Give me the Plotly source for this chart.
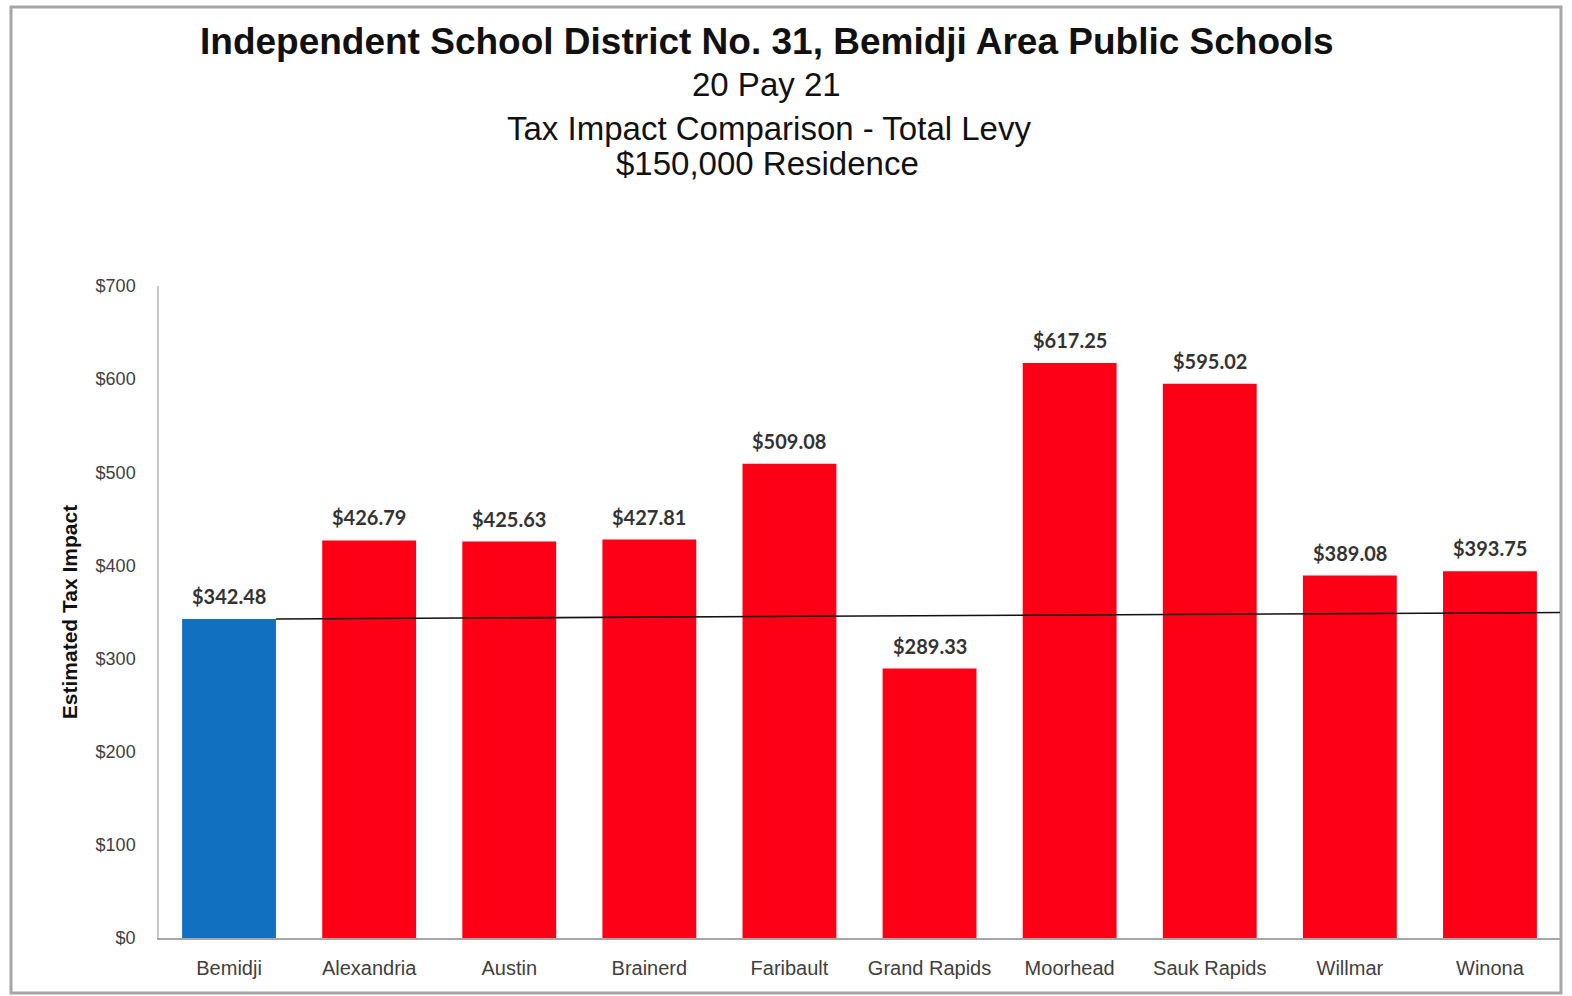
import plotly.graph_objects as go

districts = ["Bemidji", "Alexandria", "Austin", "Brainerd", "Faribault",
             "Grand Rapids", "Moorhead", "Sauk Rapids", "Willmar", "Winona"]
tax_impact = [342.48, 426.79, 425.63, 427.81, 509.08, 289.33, 617.25, 595.02, 389.08, 393.75]
y_ticks = [0, 100, 200, 300, 400, 500, 600, 700]
y_tick_labels = ["$0", "$100", "$200", "$300", "$400", "$500", "$600", "$700"]
reference_district = "Bemidji"
reference_line_end = 349.5  # hand-drawn reference line ends slightly higher

colors = ["#1170C0" if d == reference_district else "#FE0016" for d in districts]
ref_value = tax_impact[districts.index(reference_district)]

fig = go.Figure()
fig.add_trace(go.Bar(
    x=districts, y=tax_impact, marker_color=colors,
    marker_line_width=0, showlegend=False, hoverinfo="x+y",
))

for d, v in zip(districts, tax_impact):
    fig.add_annotation(
        x=d, y=v, text=f"${v:,.2f}", showarrow=False, yanchor="bottom",
        yshift=9, font=dict(family="Lato", size=20, color="#333333", weight="bold"),
    )

# reference line at Bemidji's value
fig.add_shape(type="line", xref="x", yref="y",
              x0=districts.index(reference_district) + 0.335, x1=9.59,
              y0=ref_value, y1=reference_line_end,
              line=dict(color="#111111", width=1.6), layer="above")

# frame around whole chart
fig.add_shape(type="rect", xref="paper", yref="paper",
              x0=(11 - 159) / 1401, x1=(1561 - 159) / 1401,
              y0=(938 - 993) / 652, y1=(938 - 7) / 652,
              line=dict(color="#A6A6A6", width=3), fillcolor="rgba(0,0,0,0)", layer="below")

title_font = "Liberation Sans, Arial, sans-serif"
fig.add_annotation(xref="paper", yref="paper", x=(767 - 159) / 1401, y=(938 - 42) / 652,
                   text="<b>Independent School District No. 31, Bemidji Area Public Schools</b>",
                   showarrow=False, xanchor="center", yanchor="middle",
                   font=dict(family=title_font, size=37, color="#111111"))
fig.add_annotation(xref="paper", yref="paper", x=(766 - 159) / 1401, y=(938 - 85) / 652,
                   text="20 Pay 21", showarrow=False, xanchor="center", yanchor="middle",
                   font=dict(family=title_font, size=33, color="#111111"))
fig.add_annotation(xref="paper", yref="paper", x=(769 - 159) / 1401, y=(938 - 129) / 652,
                   text="Tax Impact Comparison - Total Levy", showarrow=False,
                   xanchor="center", yanchor="middle",
                   font=dict(family=title_font, size=33, color="#111111"))
fig.add_annotation(xref="paper", yref="paper", x=(767 - 159) / 1401, y=(938 - 163) / 652,
                   text="$150,000 Residence", showarrow=False,
                   xanchor="center", yanchor="middle",
                   font=dict(family=title_font, size=33, color="#111111"))

fig.update_layout(
    width=1572, height=996,
    margin=dict(l=159, r=12, t=286, b=58),
    paper_bgcolor="white", plot_bgcolor="white",
    bargap=0.33,
    font=dict(family=title_font, color="#404040"),
)
fig.update_xaxes(
    range=[-0.5, 9.5],
    showline=True, linecolor="#A6A6A6", linewidth=2, showgrid=False,
    ticks="", tickfont=dict(size=20, color="#404040", family=title_font),
    ticklabelstandoff=11, zeroline=False,
)
fig.update_yaxes(
    range=[0, 700], tickvals=y_ticks, ticktext=y_tick_labels,
    showline=True, linecolor="#C8C8C8", linewidth=1.5, showgrid=False, zeroline=False,
    ticks="", tickfont=dict(size=18, color="#404040", family=title_font),
    ticklabelstandoff=18,
    title=dict(text="<b>Estimated Tax Impact</b>", standoff=12,
               font=dict(size=21, color="#111111", family=title_font)),
)

fig.write_html("out.html")
